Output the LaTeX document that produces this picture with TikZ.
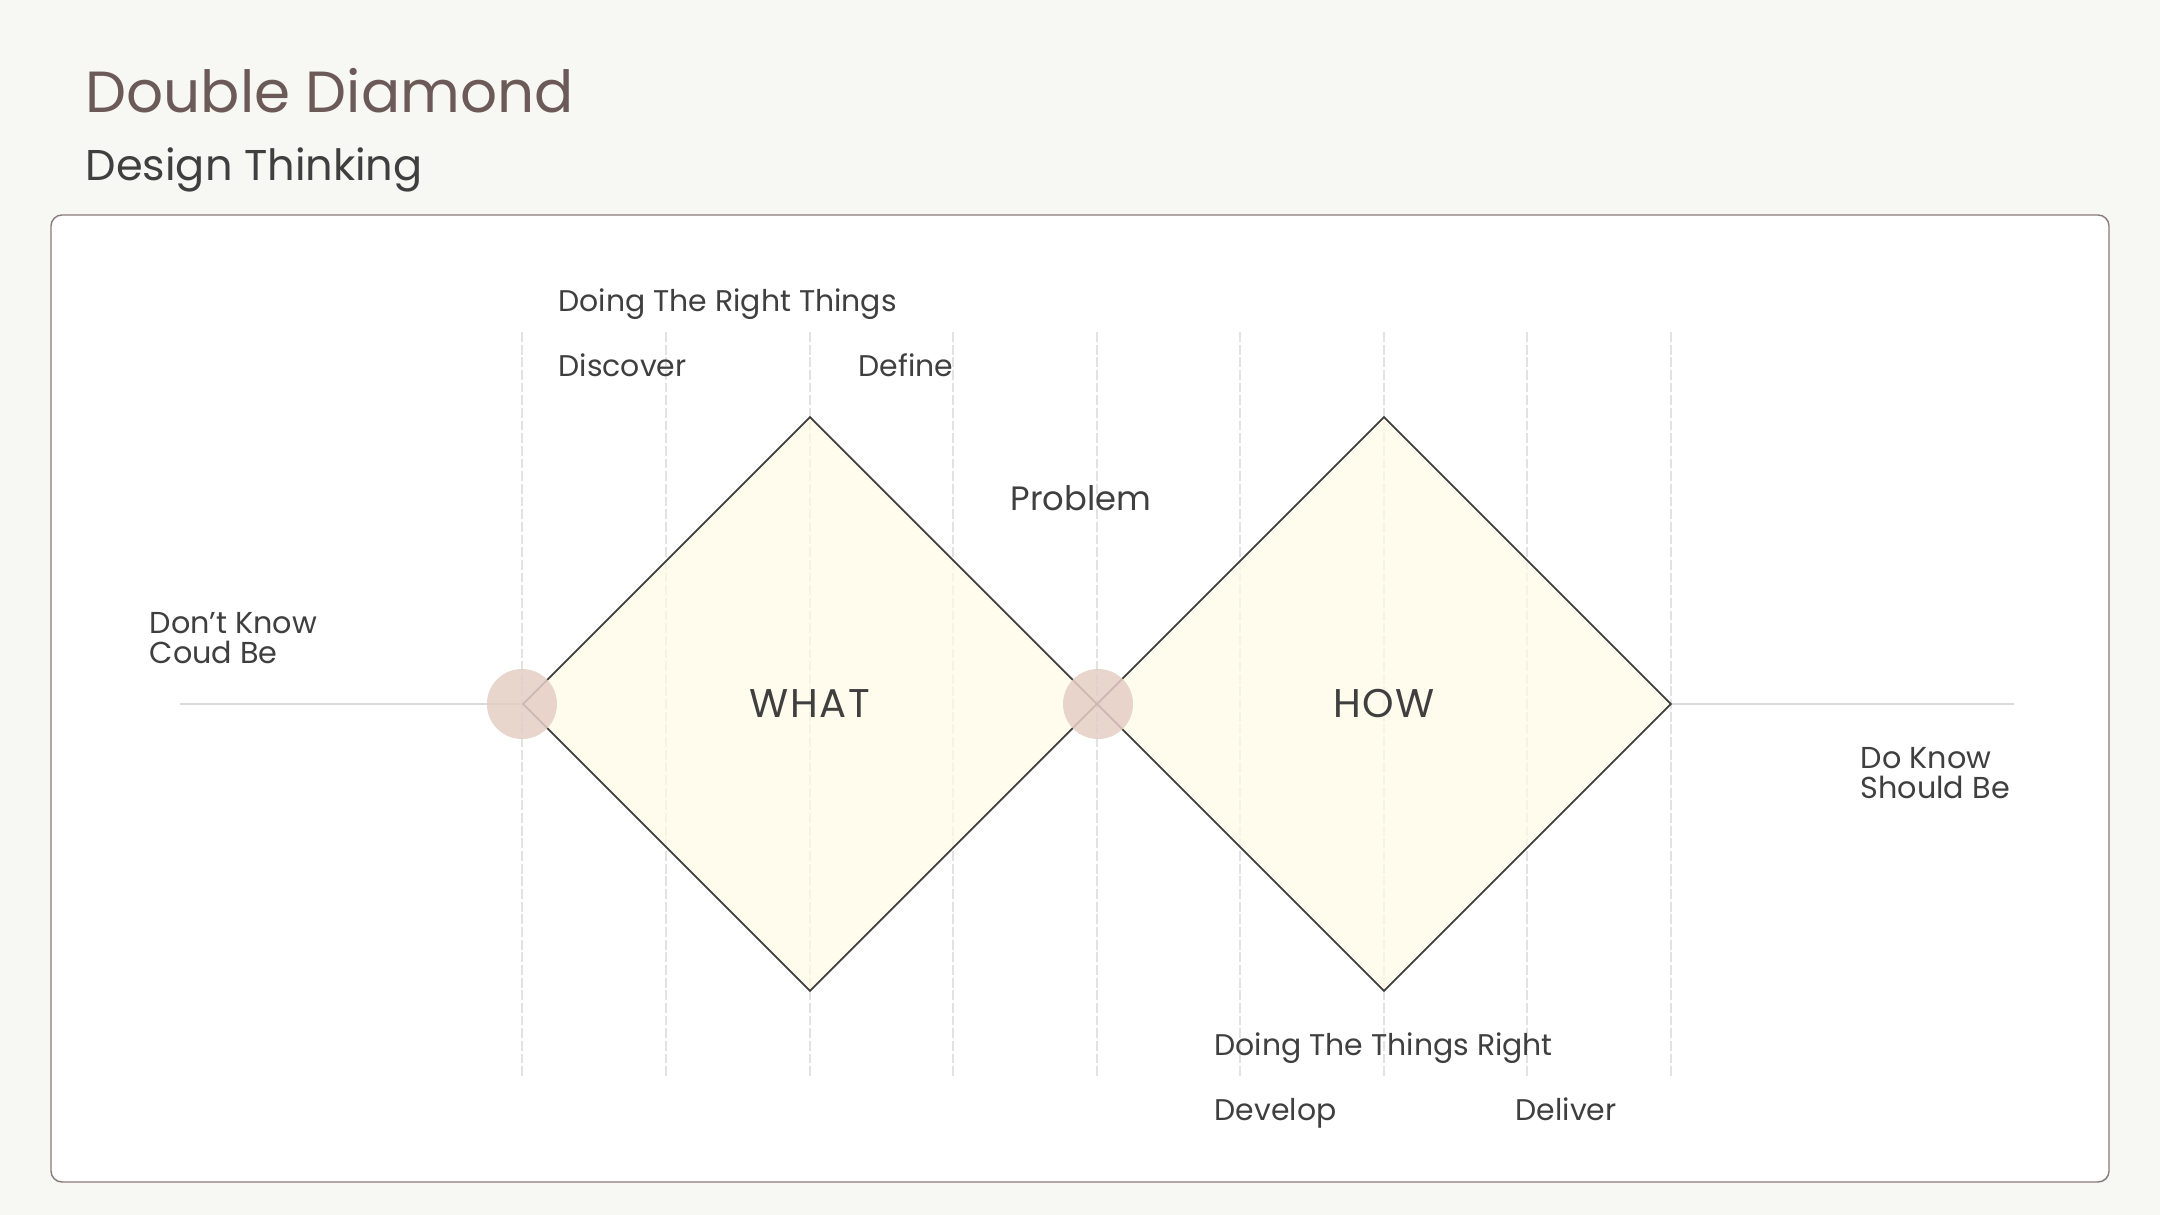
\documentclass[tikz,border=0pt]{standalone}
\usepackage{fontspec}
\setmainfont{Poppins}
\usetikzlibrary{shapes.geometric}

\definecolor{pagebg}{HTML}{F7F7F3}
\definecolor{titlebrown}{HTML}{6B5A57}
\definecolor{inkgray}{HTML}{3F3F3F}
\definecolor{creamfill}{HTML}{FFFBE6}
\definecolor{gridgray}{HTML}{E2E2E2}
\definecolor{axisgray}{HTML}{DADADA}
\definecolor{jointrose}{HTML}{E4CEC4}

\begin{document}
\begin{tikzpicture}[x=0.01cm, y=-0.01cm, inner sep=0pt,
  lbl/.style={anchor=base west, text=inkgray, font=\fontsize{8.5}{8.5}\selectfont},
  gridline/.style={draw=gridgray, line width=0.35pt, dash pattern=on 2.8pt off 0.8pt},
  dmd/.style={diamond, draw=inkgray, line width=0.5pt, fill=creamfill, fill opacity=0.7, text opacity=1,
    minimum width=5.74cm, minimum height=5.74cm, aspect=1, text=inkgray,
    font=\fontsize{11.4}{11.4}\selectfont\addfontfeatures{LetterSpace=4}},
  joint/.style={circle, fill=jointrose, fill opacity=0.85, minimum size=0.7cm}]

  \useasboundingbox[fill=pagebg] (0,0) rectangle (2160,1215);

  \node[anchor=base west, text=titlebrown, font=\fontsize{16.5}{16.5}\selectfont] (T1) at (85,113) {Double Diamond};
  \node[anchor=base west, text=inkgray, font=\fontsize{12.25}{12.25}\selectfont] (T2) at (85,180) {Design Thinking};

  \draw[draw=titlebrown!80, line width=0.4pt, fill=white, rounded corners=0.11cm] (51,215) rectangle (2109,1182);

  \draw[gridline] (522,332) -- (522,1076);
  \draw[gridline] (666,332) -- (666,1076);
  \draw[gridline] (810,332) -- (810,1076);
  \draw[gridline] (953,332) -- (953,1076);
  \draw[gridline] (1097,332) -- (1097,1076);
  \draw[gridline] (1240,332) -- (1240,1076);
  \draw[gridline] (1384,332) -- (1384,1076);
  \draw[gridline] (1527,332) -- (1527,1076);
  \draw[gridline] (1671,332) -- (1671,1076);

  \node[dmd] (what) at (810,704) {WHAT};
  \node[dmd] (how) at (1384,704) {HOW};

  \coordinate (AL) at (180,704);
  \coordinate (AR) at (2014,704);
  \draw[axisgray, line width=0.8pt] (AL) -- (what.west);
  \draw[axisgray, line width=0.8pt] (how.east) -- (AR);

  \node[joint] (J1) at (what.west) {};
  \node[joint] (J2) at (what.east) {};

  \node[lbl] (L1) at (558,311) {Doing The Right Things};
  \node[lbl] (L2) at (558,376) {Discover};
  \node[lbl] (L3) at (858,376) {Define};
  \node[lbl, font=\fontsize{9.6}{9.6}\selectfont] (L4) at (1010,510) {Problem};
  \node[lbl, align=left, font=\fontsize{8.6}{8.25}\selectfont] (L5) at (149,663) {Don’t Know\\Coud Be};
  \node[lbl, align=left, font=\fontsize{8.6}{8.25}\selectfont] (L6) at (1860,798) {Do Know\\Should Be};
  \node[lbl] (L7) at (1214,1055) {Doing The Things Right};
  \node[lbl] (L8) at (1214,1120) {Develop};
  \node[lbl] (L9) at (1515,1120) {Deliver};
\end{tikzpicture}
\end{document}
